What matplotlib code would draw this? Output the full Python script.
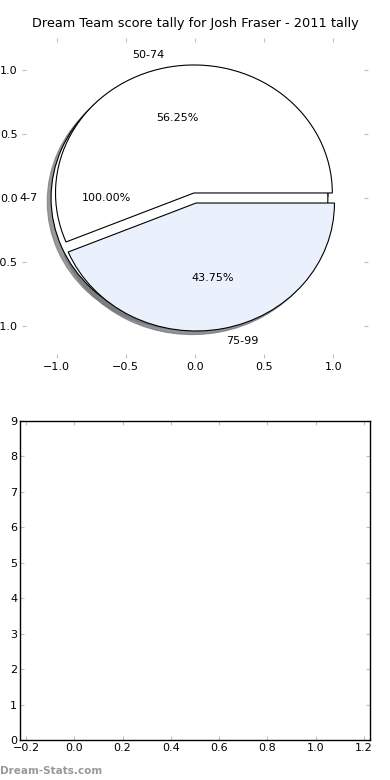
import matplotlib
matplotlib.use("Agg")
import matplotlib.pyplot as plt

title = "Dream Team score tally for Josh Fraser - 2011 tally"
labels_a = ["4-7"]
values_a = [1]
labels_b = ["50-74", "75-99"]
values_b = [9, 7]
colors_a = ["white"]
colors_b = ["white", "#eaf0fc"]
bar_xticks = [-0.2, 0.0, 0.2, 0.4, 0.6, 0.8, 1.0, 1.2]
bar_yticks = list(range(0, 10))

fig = plt.figure(figsize=(3.9, 7.8), dpi=100)
ax1 = fig.add_axes([22/390, 1-358/780, 346/390, 320/780])
ax2 = fig.add_axes([20/390, 1-740/780, 350/390, 319/780])

wp = dict(edgecolor="black", linewidth=0.8)
shadow = dict(ox=-0.02, oy=-0.02, shade=0.5, alpha=0.8)
for vals, labs, cols in ((values_a, labels_a, colors_a), (values_b, labels_b, colors_b)):
    ax1.pie(vals, labels=labs, colors=cols, explode=[0.04]*len(vals),
            autopct="%1.2f%%", shadow=shadow, frame=True, wedgeprops=wp,
            textprops=dict(fontsize=8))
ax1.set_aspect("auto")
ax1.set_xlim(-1.25, 1.25)
ax1.set_ylim(-1.25, 1.25)
ax1.set_xticks([-1.0, -0.5, 0.0, 0.5, 1.0])
ax1.set_yticks([-1.0, -0.5, 0.0, 0.5, 1.0])
for s in ax1.spines.values():
    s.set_visible(False)
ax1.tick_params(direction="in", length=3, color="#c0c0c0", labelsize=8,
                top=True, right=True, pad=3)
ax1.set_title(title, fontsize=9.3, pad=8)

ax2.set_xlim(-0.225, 1.225)
ax2.set_ylim(0, 9)
ax2.set_xticks(bar_xticks)
ax2.set_yticks(bar_yticks)
ax2.tick_params(direction="in", length=3, color="#c0c0c0", labelsize=8,
                top=True, right=True, pad=2)
for s in ax2.spines.values():
    s.set_linewidth(1.0)

fig.text(0.0, 4/780, "Dream-Stats.com", color="#999999", fontsize=7.5,
         fontweight="bold", ha="left", va="bottom")

fig.savefig("out.png", dpi=100)
